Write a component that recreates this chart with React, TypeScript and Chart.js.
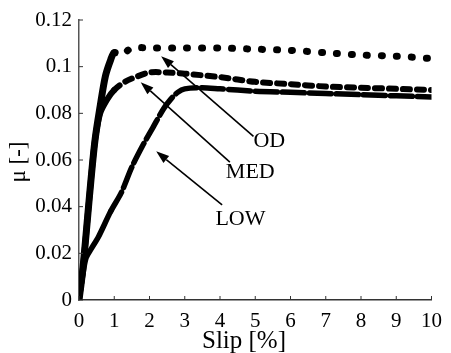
import React, { useEffect, useRef } from "react";
import { Chart, registerables } from "chart.js";

Chart.register(...registerables);

// Slip [%] / mu [-] samples
const odSlip = [0, 0.1, 0.2, 0.3, 0.45, 0.6, 0.75, 0.9, 1.0, 1.2, 1.5, 2, 3, 4, 5, 6, 7, 8, 9, 10];
const odMu = [0, 0.012, 0.028, 0.045, 0.068, 0.083, 0.096, 0.103, 0.106, 0.105, 0.108, 0.108, 0.108, 0.108, 0.1075, 0.107, 0.106, 0.105, 0.1045, 0.1035];

const medSlip = [0, 0.1, 0.2, 0.3, 0.45, 0.6, 0.8, 1.0, 1.3, 1.6, 2, 2.5, 3, 4, 5, 6, 7, 8, 9, 10];
const medMu = [0, 0.012, 0.028, 0.045, 0.068, 0.08, 0.086, 0.09, 0.0935, 0.0955, 0.0975, 0.0975, 0.097, 0.0955, 0.0935, 0.0925, 0.0915, 0.091, 0.0905, 0.09];

const lowSlip = [0, 0.1, 0.2, 0.35, 0.55, 0.9, 1.2, 1.5, 1.8, 2.1, 2.4, 2.6, 2.8, 3.0, 3.5, 4, 5, 6, 7, 8, 9, 10];
const lowMu = [0, 0.01, 0.018, 0.022, 0.027, 0.038, 0.046, 0.057, 0.066, 0.074, 0.082, 0.086, 0.089, 0.0905, 0.091, 0.0905, 0.0895, 0.089, 0.0885, 0.088, 0.0875, 0.087];

const xTicks = [0, 1, 2, 3, 4, 5, 6, 7, 8, 9, 10];
const yTicks = [0, 0.02, 0.04, 0.06, 0.08, 0.1, 0.12];

const labelNames = ["OD", "MED", "LOW"];
// arrow head (x, y) and tail (x, y), label anchor (x, y) in data units
const arrowHeads = [[2.33, 0.1045], [1.75, 0.0933], [2.19, 0.0637]];
const arrowTails = [[4.95, 0.0701], [4.28, 0.0591], [4.06, 0.0408]];
const labelPos = [[5.4, 0.068], [4.86, 0.0548], [4.58, 0.0345]];

const xTitle = "Slip [%]";
const yTitle = "\u03bc [-]";

const SERIF = "'Liberation Serif', 'DejaVu Serif', serif";

const toPts = (xs: number[], ys: number[]) => xs.map((x, i) => ({ x, y: ys[i] }));

const decor = {
  id: "decor",
  afterDatasetsDraw(chart: any) {
    const { ctx, scales } = chart;
    const xs = scales.x;
    const ys = scales.y;
    const area = chart.chartArea;
    ctx.save();
    // inward tick marks
    ctx.strokeStyle = "#333";
    ctx.lineWidth = 1;
    xTicks.forEach((t) => {
      const px = xs.getPixelForValue(t);
      ctx.beginPath();
      ctx.moveTo(px, area.bottom);
      ctx.lineTo(px, area.bottom - 4);
      ctx.stroke();
    });
    yTicks.forEach((t) => {
      const py = ys.getPixelForValue(t);
      ctx.beginPath();
      ctx.moveTo(area.left, py);
      ctx.lineTo(area.left + 4, py);
      ctx.stroke();
    });
    // arrows
    ctx.strokeStyle = "#000";
    ctx.fillStyle = "#000";
    ctx.lineWidth = 1.6;
    arrowHeads.forEach((h, i) => {
      const hx = xs.getPixelForValue(h[0]);
      const hy = ys.getPixelForValue(h[1]);
      const tx = xs.getPixelForValue(arrowTails[i][0]);
      const ty = ys.getPixelForValue(arrowTails[i][1]);
      const ang = Math.atan2(hy - ty, hx - tx);
      const len = 13;
      const wid = 4.5;
      const bx = hx - len * Math.cos(ang);
      const by = hy - len * Math.sin(ang);
      ctx.beginPath();
      ctx.moveTo(tx, ty);
      ctx.lineTo(bx, by);
      ctx.stroke();
      ctx.beginPath();
      ctx.moveTo(hx, hy);
      ctx.lineTo(bx + wid * Math.sin(ang), by - wid * Math.cos(ang));
      ctx.lineTo(bx - wid * Math.sin(ang), by + wid * Math.cos(ang));
      ctx.closePath();
      ctx.fill();
    });
    // labels
    ctx.font = `22px ${SERIF}`;
    ctx.textAlign = "center";
    ctx.textBaseline = "middle";
    labelNames.forEach((n, i) => {
      ctx.fillText(n, xs.getPixelForValue(labelPos[i][0]), ys.getPixelForValue(labelPos[i][1]));
    });
    // axis titles
    ctx.font = `25px ${SERIF}`;
    ctx.textBaseline = "alphabetic";
    ctx.fillText(xTitle, 244, 348);
    ctx.save();
    ctx.translate(25, 162);
    ctx.rotate(-Math.PI / 2);
    ctx.font = `23px ${SERIF}`;
    ctx.fillText(yTitle, 0, 0);
    ctx.restore();
    ctx.restore();
  },
};

export default function App() {
  const ref = useRef<HTMLCanvasElement | null>(null);
  useEffect(() => {
    if (!ref.current) return;
    const dashAfter = (limit: number, dash: number[]) => (c: any) =>
      c.p0.parsed.x >= limit ? dash : undefined;
    const chart = new Chart(ref.current, {
      type: "line",
      data: {
        datasets: [
          {
            label: "OD",
            data: toPts(odSlip, odMu),
            borderColor: "#000",
            borderWidth: 7,
            pointRadius: 0,
            tension: 0.3,
            borderCapStyle: "round",
            segment: { borderDash: dashAfter(1.0, [1, 14]) },
          },
          {
            label: "MED",
            data: toPts(medSlip, medMu),
            borderColor: "#000",
            borderWidth: 6,
            pointRadius: 0,
            tension: 0.3,
            borderCapStyle: "round",
            segment: { borderDash: dashAfter(1.0, [7, 7]) },
          },
          {
            label: "LOW",
            data: toPts(lowSlip, lowMu),
            borderColor: "#000",
            borderWidth: 5.5,
            pointRadius: 0,
            tension: 0.3,
            borderCapStyle: "round",
            segment: { borderDash: dashAfter(0.9, [22, 5]) },
          },
        ],
      },
      options: {
        animation: false,
        responsive: false,
        maintainAspectRatio: false,
        layout: { padding: { left: 0, right: 11, top: 20, bottom: 0 }, autoPadding: false },
        plugins: { legend: { display: false }, tooltip: { enabled: false } },
        scales: {
          x: {
            type: "linear",
            min: 0,
            max: 10,
            afterFit: (s: any) => { s.height = 53; },
            afterBuildTicks: (s: any) => { s.ticks = xTicks.map((v) => ({ value: v })); },
            grid: { display: true, drawOnChartArea: false, drawTicks: false },
            border: { display: true, color: "#333", width: 1.5 },
            ticks: {
              padding: 9,
              color: "#000",
              font: { family: SERIF, size: 21 },
              callback: (v: any) => String(v),
            },
          },
          y: {
            type: "linear",
            min: 0,
            max: 0.12,
            afterFit: (s: any) => { s.width = 79; },
            afterBuildTicks: (s: any) => { s.ticks = yTicks.map((v) => ({ value: v })); },
            grid: { display: true, drawOnChartArea: false, drawTicks: false },
            border: { display: true, color: "#555", width: 1.5 },
            ticks: {
              padding: 7,
              color: "#000",
              font: { family: SERIF, size: 21 },
              callback: (v: any) => String(Number(Number(v).toFixed(2))),
            },
          },
        },
      },
      plugins: [decor],
    } as any);
    return () => chart.destroy();
  }, []);
  return (
    <div style={{ position: "fixed", left: 0, top: 0, width: 451, height: 353, background: "#fff" }}>
      <canvas ref={ref} width={451} height={353} style={{ width: 451, height: 353, display: "block" }} />
    </div>
  );
}
